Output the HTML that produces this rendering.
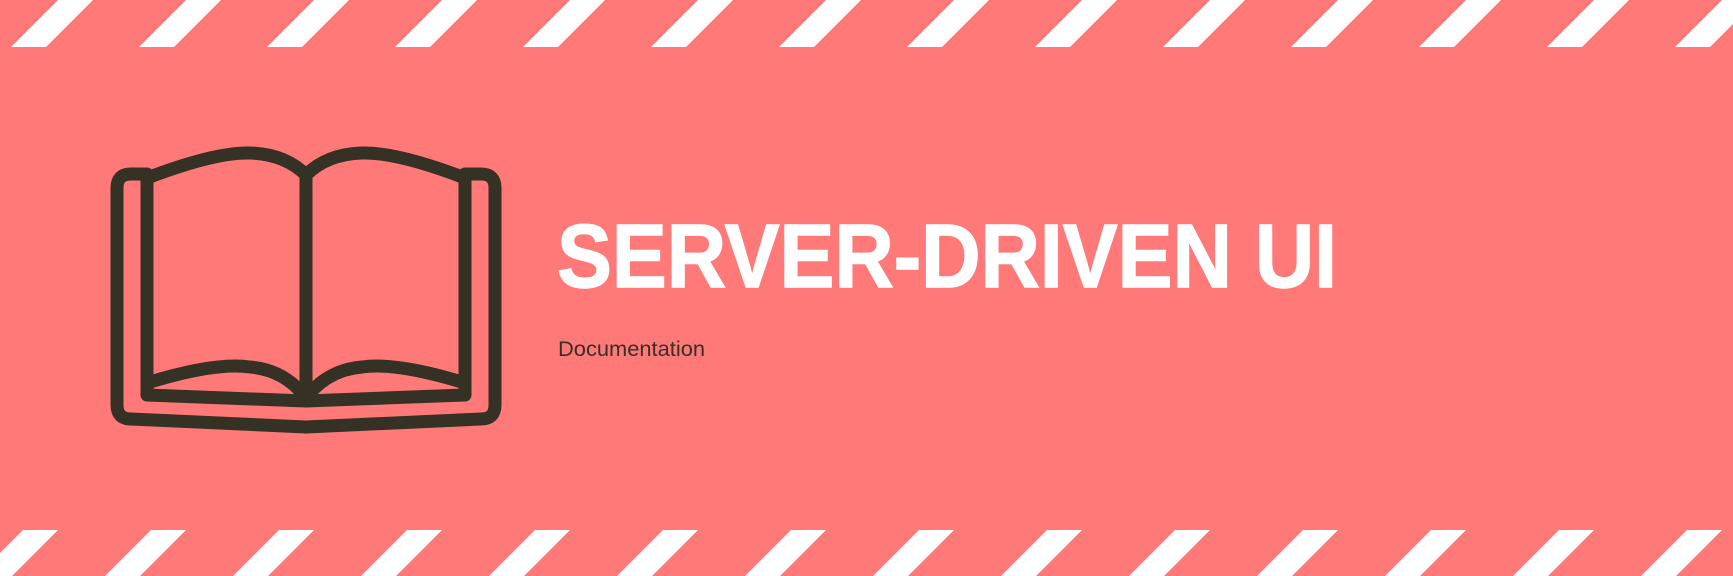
<!DOCTYPE html>
<html><head><meta charset="utf-8"><style>
html,body{margin:0;padding:0;background:#ff7979;}
svg{display:block}
</style></head><body>
<svg width="1733" height="576" viewBox="0 0 1733 576" xmlns="http://www.w3.org/2000/svg">
<rect width="1733" height="576" fill="#ff7979"/>
<g fill="#fff">
<g id="ts">
<polygon points="11,47 46,47 93,0 58,0"/>
</g>
<use href="#ts" x="128"/><use href="#ts" x="256"/><use href="#ts" x="384"/><use href="#ts" x="512"/>
<use href="#ts" x="640"/><use href="#ts" x="768"/><use href="#ts" x="896"/><use href="#ts" x="1024"/>
<use href="#ts" x="1152"/><use href="#ts" x="1280"/><use href="#ts" x="1408"/><use href="#ts" x="1536"/><use href="#ts" x="1664"/>
<g id="bs">
<polygon points="-23,576 12,576 58,530 23,530"/>
</g>
<use href="#bs" x="128"/><use href="#bs" x="256"/><use href="#bs" x="384"/><use href="#bs" x="512"/>
<use href="#bs" x="640"/><use href="#bs" x="768"/><use href="#bs" x="896"/><use href="#bs" x="1024"/>
<use href="#bs" x="1152"/><use href="#bs" x="1280"/><use href="#bs" x="1408"/><use href="#bs" x="1536"/><use href="#bs" x="1664"/>
</g>
<g fill="none" stroke="#353124" stroke-width="13" stroke-linejoin="round" stroke-linecap="round">
<path d="M147,174 H131 Q117,174 117,188 V405 Q117,419 131,419 L306,427 L481,419 Q495,419 495,405 V188 Q495,174 481,174 H465"/>
<path d="M147,178 V395 L306,401 L465,395 V178"/>
<path d="M306,175 V398"/>
<path d="M147,178 Q215,152 250,153 Q285,154 306,175 Q327,154 362,153 Q397,152 465,178"/>
<path d="M147,383 Q215,362 250,367 Q285,370 306,398 Q327,370 362,367 Q397,362 465,383"/>
</g>
<text x="557" y="287" font-family="Liberation Sans, sans-serif" font-weight="bold" font-size="90" fill="#fff" stroke="#fff" stroke-width="1.5" textLength="780" lengthAdjust="spacingAndGlyphs">SERVER-DRIVEN UI</text>
<text x="558" y="356" font-family="Liberation Sans, sans-serif" font-size="21" fill="#353124" textLength="147" lengthAdjust="spacingAndGlyphs">Documentation</text>
</svg>
</body></html>
